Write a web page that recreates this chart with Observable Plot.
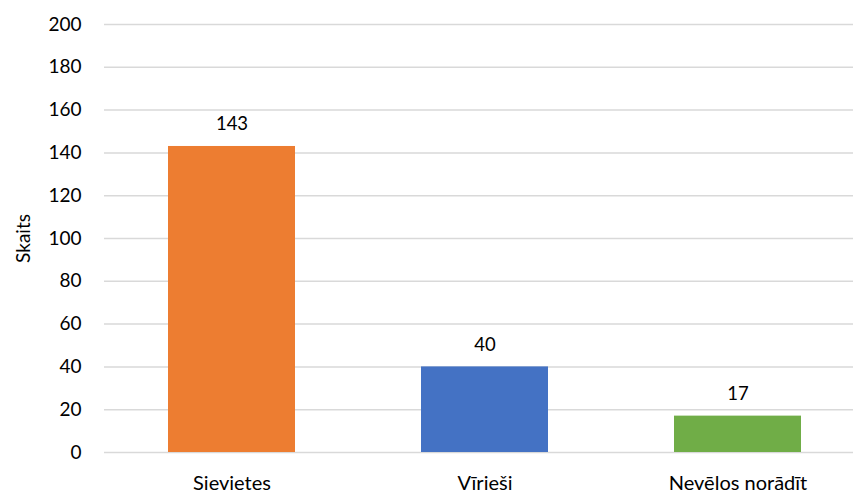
<!DOCTYPE html>
<html>
<head>
<meta charset="utf-8">
<script src="https://cdn.jsdelivr.net/npm/d3@7"></script>
<script src="https://cdn.jsdelivr.net/npm/@observablehq/plot@0.6"></script>
<style>
  html, body { margin: 0; padding: 0; background: #fff; }
  #chart { width: 854px; height: 495px; }
</style>
</head>
<body>
<div id="chart"></div>
<script>
const categories = ["Sievietes", "Vīrieši", "Nevēlos norādīt"];
const counts = [143, 40, 17];
const colors = ["#ED7D31", "#4472C4", "#70AD47"];
const yTicks = [0, 20, 40, 60, 80, 100, 120, 140, 160, 180, 200];

const data = categories.map((c, i) => ({category: c, count: counts[i], color: colors[i]}));

const chart = Plot.plot({
  width: 854,
  height: 495,
  marginLeft: 104,
  marginRight: 1,
  marginTop: 24,
  marginBottom: 43,
  style: {fontFamily: "Lato, 'Open Sans', sans-serif", fontSize: "19px", color: "#000", background: "#fff"},
  x: {domain: categories, range: [104, 864], paddingInner: 0.5, paddingOuter: 0.25, label: null},
  y: {domain: [0, 200], ticks: yTicks, label: "Skaits"},
  marks: [
    Plot.gridY(yTicks, {stroke: "#D9D9D9", strokeOpacity: 1, strokeWidth: 1.5}),
    Plot.barY(data, {x: "category", y: "count", fill: d => d.color}),
    Plot.text(data, {x: "category", y: "count", text: d => String(d.count), dy: -22, fontSize: 18.5, fill: "#000"}),
    Plot.axisY({ticks: yTicks, tickSize: 0, tickPadding: 23, fontSize: 19, label: "Skaits", labelAnchor: "center", labelArrow: "none", labelOffset: 88}),
    Plot.axisX({tickSize: 0, tickPadding: 23, fontSize: 20, label: null})
  ]
});
document.getElementById("chart").appendChild(chart);
</script>
</body>
</html>
